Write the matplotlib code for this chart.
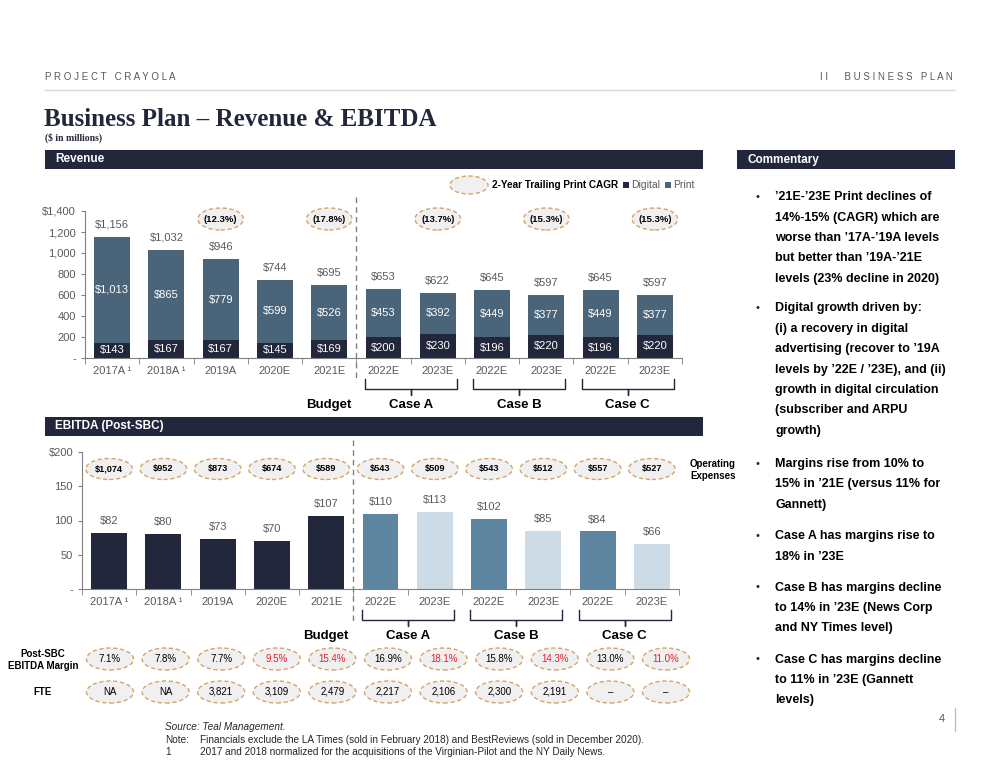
import numpy as np
import matplotlib.pyplot as plt
from matplotlib.patches import Ellipse, Rectangle
from matplotlib.lines import Line2D
from matplotlib.transforms import blended_transform_factory

# --- data ---
years = ['2017A ¹', '2018A ¹', '2019A', '2020E', '2021E',
         '2022E', '2023E', '2022E', '2023E', '2022E', '2023E']
digital = [143, 167, 167, 145, 169, 200, 230, 196, 220, 196, 220]
print_rev = [1013, 865, 779, 599, 526, 453, 392, 449, 377, 449, 377]
cagr_idx = [2, 4, 6, 8, 10]
cagr_lbl = ['(12.3%)', '(17.8%)', '(13.7%)', '(15.3%)', '(15.3%)']
ebitda = [82, 80, 73, 70, 107, 110, 113, 102, 85, 84, 66]
opex = ['$1,074', '$952', '$873', '$674', '$589', '$543', '$509', '$543', '$512', '$557', '$527']
margin = ['7.1%', '7.8%', '7.7%', '9.5%', '15.4%', '16.9%', '18.1%', '15.8%', '14.3%', '13.0%', '11.0%']
margin_red = [False, False, False, True, True, False, True, False, True, False, True]
fte = ['NA', 'NA', '3,821', '3,109', '2,479', '2,217', '2,106', '2,300', '2,191', '–', '–']
group_lbl = ['Budget', 'Case A', 'Case B', 'Case C']
group_pos = [4, 5.5, 7.5, 9.5]
top_ticks = ['-', '200', '400', '600', '800', '1,000', '1,200', '$1,400']
bot_ticks = ['-', '50', '100', '150', '$200']

comment1 = [["’21E-’23E Print declines of", "14%-15% (CAGR) which are",
             "worse than ’17A-’19A levels", "but better than ’19A-’21E",
             "levels (23% decline in 2020)"],
            ["Digital growth driven by:", "(i) a recovery in digital",
             "advertising (recover to ’19A", "levels by ’22E / ’23E), and (ii)",
             "growth in digital circulation", "(subscriber and ARPU", "growth)"]]
comment2 = [["Margins rise from 10% to", "15% in ’21E (versus 11% for", "Gannett)"],
            ["Case A has margins rise to", "18% in ’23E"],
            ["Case B has margins decline", "to 14% in ’23E (News Corp", "and NY Times level)"],
            ["Case C has margins decline", "to 11% in ’23E (Gannett", "levels)"]]

# colours
NAVY = '#23273b'
PRINT = '#4a6479'
MID = '#5f86a0'
LIGHT = '#ccdbe5'
GRAY = '#595959'
EDGE = '#d4a468'
FILL = '#f0f0f0'
RED = '#e3212b'

plt.rcParams['font.family'] = ['Liberation Sans', 'DejaVu Sans']


def fx(x):
    return x / 1000


def fy(y):
    return 1 - y / 771


fig = plt.figure(figsize=(10, 7.71), dpi=100)

# header
fig.text(fx(45), fy(77), 'P R O J E C T   C R A Y O L A', fontsize=7, color=GRAY, va='center')
fig.text(fx(953), fy(77), 'I I      B U S I N E S S   P L A N', fontsize=7, color=GRAY,
         va='center', ha='right')
fig.add_artist(Line2D([fx(45), fx(955)], [fy(90), fy(90)], color='#d9d9d9', lw=1))
fig.text(fx(44), fy(120), 'Business Plan – Revenue & EBITDA', family='Liberation Serif',
         fontsize=18, weight='bold', color=NAVY, va='center')
fig.text(fx(45), fy(138), '($ in millions)', family='Liberation Serif', fontsize=7,
         weight='bold', color=NAVY, va='center')


def header_bar(x0, x1, y0, y1, label):
    fig.add_artist(Rectangle((fx(x0), fy(y1)), fx(x1 - x0), (y1 - y0) / 771,
                             transform=fig.transFigure, color=NAVY, lw=0))
    fig.text(fx(x0 + 10), fy((y0 + y1) / 2), label, color='white', fontsize=8.5,
             weight='bold', va='center')


header_bar(45, 703, 150, 169, 'Revenue')
header_bar(737, 955, 150, 169, 'Commentary')
header_bar(45, 703, 417, 436, 'EBITDA (Post-SBC)')

x = np.arange(len(years))


def style_axis(ax, ymax, labels, step):
    ax.set_xlim(-0.5, len(years) - 0.5)
    ax.set_ylim(0, ymax)
    ax.set_yticks(np.arange(0, ymax + 1, step))
    ax.set_yticklabels(labels)
    ax.set_xticks(x)
    ax.set_xticklabels(years)
    ax.set_xticks(np.arange(-0.5, len(years), 1), minor=True)
    for s in ['top', 'right']:
        ax.spines[s].set_visible(False)
    for s in ['left', 'bottom']:
        ax.spines[s].set_color('#808080')
    ax.tick_params(axis='x', which='major', length=0, pad=6, labelsize=8, labelcolor=GRAY)
    ax.tick_params(axis='x', which='minor', length=4, color='#808080')
    ax.tick_params(axis='y', length=3, color='#808080', labelsize=8, labelcolor=GRAY)


# --- revenue chart ---
ax1 = fig.add_axes([fx(85), fy(358), 0.597, 147 / 771])
total = np.array(digital) + np.array(print_rev)
ax1.bar(x, digital, width=0.66, color=NAVY, label='Digital')
ax1.bar(x, print_rev, bottom=digital, width=0.66, color=PRINT, label='Print')
style_axis(ax1, 1400, top_ticks, 200)
for i in x:
    ax1.text(i, digital[i] / 2, f'${digital[i]:,}', ha='center', va='center',
             color='white', fontsize=8)
    ax1.text(i, digital[i] + print_rev[i] / 2, f'${print_rev[i]:,}', ha='center',
             va='center', color='white', fontsize=8)
    ax1.annotate(f'${total[i]:,}', (i, total[i]), xytext=(0, 5), textcoords='offset points',
                 ha='center', va='bottom', color=GRAY, fontsize=8)

bt1 = blended_transform_factory(ax1.transData, fig.transFigure)
for i, lbl in zip(cagr_idx, cagr_lbl):
    ax1.add_patch(Ellipse((i, fy(219)), 0.84, 22 / 771, transform=bt1, facecolor=FILL,
                          edgecolor=EDGE, ls=(0, (3, 2)), lw=1, clip_on=False))
    ax1.text(i, fy(219), lbl, transform=bt1, ha='center', va='center', fontsize=6.8,
             weight='bold')

# legend
fig.add_artist(Ellipse((fx(469), fy(185)), fx(38), 18 / 771, transform=fig.transFigure,
                       facecolor=FILL, edgecolor=EDGE, ls=(0, (3, 2)), lw=1))
fig.text(fx(492), fy(185), '2-Year Trailing Print CAGR', fontsize=7.2, weight='bold',
         va='center')
fig.add_artist(Rectangle((fx(623), fy(188)), fx(6), 6 / 771, transform=fig.transFigure,
                         color=NAVY, lw=0))
fig.text(fx(631), fy(185), 'Digital', fontsize=7.5, color=GRAY, va='center')
fig.add_artist(Rectangle((fx(665), fy(188)), fx(6), 6 / 771, transform=fig.transFigure,
                         color=PRINT, lw=0))
fig.text(fx(673), fy(185), 'Print', fontsize=7.5, color=GRAY, va='center')


def braces(ax, y_top, y_bot, y_tip, y_lbl):
    bt = blended_transform_factory(ax.transData, fig.transFigure)
    ax.add_line(Line2D([4.5, 4.5], [fy(y_top), fy(y_bot)], transform=bt, color='#808080',
                       ls=(0, (4, 3)), lw=1, clip_on=False))
    for i in range(5, len(years), 2):
        x0, x1, xc = i - 0.35, i + 1.35, i + 0.5
        ax.add_line(Line2D([x0, x0, xc, xc, xc, x1, x1],
                           [fy(y_tip - 16), fy(y_tip - 6), fy(y_tip - 6), fy(y_tip),
                            fy(y_tip - 6), fy(y_tip - 6), fy(y_tip - 16)],
                           transform=bt, color=NAVY, lw=1, clip_on=False))
    for p, g in zip(group_pos, group_lbl):
        ax.text(p, fy(y_lbl), g, transform=bt, ha='center', va='center', fontsize=9.5,
                weight='bold')


braces(ax1, 197, 382, 395, 405)

# --- EBITDA chart ---
ax2 = fig.add_axes([fx(82), fy(589), 0.597, 137 / 771])
bar_cols = [NAVY] * 5 + [MID, LIGHT] * 3
ax2.bar(x, ebitda, width=0.66, color=bar_cols)
style_axis(ax2, 200, bot_ticks, 50)
for i in x:
    ax2.annotate(f'${ebitda[i]}', (i, ebitda[i]), xytext=(0, 5), textcoords='offset points',
                 ha='center', va='bottom', color=GRAY, fontsize=8)

bt2 = blended_transform_factory(ax2.transData, fig.transFigure)
for i, lbl in zip(x, opex):
    ax2.add_patch(Ellipse((i, fy(469)), 0.86, 21 / 771, transform=bt2, facecolor=FILL,
                          edgecolor=EDGE, ls=(0, (3, 2)), lw=1, clip_on=False))
    ax2.text(i, fy(469), lbl, transform=bt2, ha='center', va='center', fontsize=6.6,
             weight='bold')
fig.text(fx(690), fy(470), 'Operating\nExpenses', fontsize=7, weight='bold',
         va='center', linespacing=1.25)

braces(ax2, 440, 624, 626, 636)

# margin and FTE rows
for i in range(len(years)):
    cx = fx(110 + 55.6 * i)
    for yy, lbl, col in [(659, margin[i], RED if margin_red[i] else 'black'),
                         (692, fte[i], 'black')]:
        fig.add_artist(Ellipse((cx, fy(yy)), fx(47), 22 / 771, transform=fig.transFigure,
                               facecolor=FILL, edgecolor=EDGE, ls=(0, (3, 2)), lw=1))
        fig.text(cx, fy(yy), lbl, ha='center', va='center', fontsize=7, color=col)
fig.text(fx(43), fy(660), 'Post-SBC\nEBITDA Margin', ha='center', va='center', fontsize=7,
         weight='bold', linespacing=1.3)
fig.text(fx(43), fy(692), 'FTE', ha='center', va='center', fontsize=7, weight='bold')

# footnotes
FOOT = dict(fontsize=7.2, va='center', color='#262626')
fig.text(fx(165), fy(727), 'Source: Teal Management.', style='italic', **FOOT)
fig.text(fx(165), fy(740), 'Note:', **FOOT)
fig.text(fx(200), fy(740), 'Financials exclude the LA Times (sold in February 2018) and '
         'BestReviews (sold in December 2020).', **FOOT)
fig.text(fx(165), fy(752), '1', **FOOT)
fig.text(fx(200), fy(752), '2017 and 2018 normalized for the acquisitions of the '
         'Virginian-Pilot and the NY Daily News.', **FOOT)

# page number
fig.text(fx(945), fy(719), '4', fontsize=8, color=GRAY, ha='right', va='center')
fig.add_artist(Line2D([fx(955), fx(955)], [fy(708), fy(731)], color='#bfbfbf', lw=1))


# commentary
def bullets(blocks, y0, gap):
    y = y0
    for blk in blocks:
        fig.text(fx(755), fy(y), '•', fontsize=8, va='center', color=NAVY)
        for line in blk:
            fig.text(fx(775), fy(y), line, fontsize=9, weight='bold', va='center')
            y += 20.5
        y += gap


bullets(comment1, 197, 8.5)
bullets(comment2, 464, 10.5)

fig.savefig('out.png', dpi=100)
